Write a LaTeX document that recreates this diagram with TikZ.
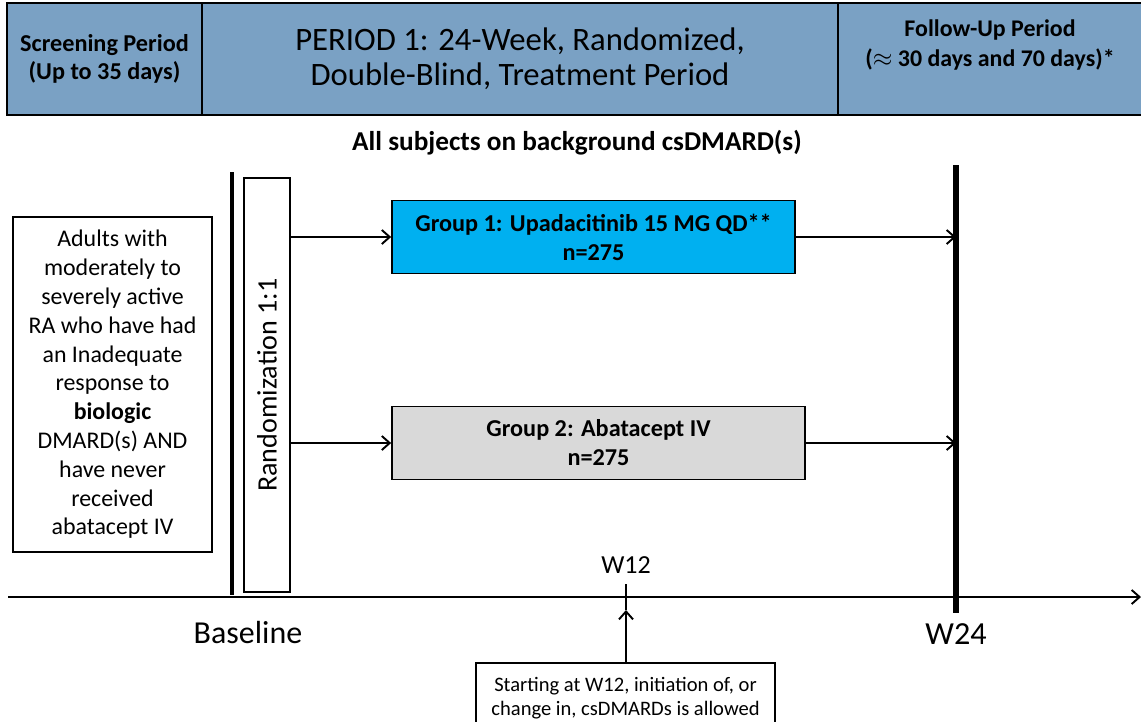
\documentclass[tikz,border=0pt]{standalone}
\usepackage{fontspec}
\setmainfont{Carlito}
\usetikzlibrary{arrows,arrows.meta,positioning}
\definecolor{HeadBlue}{RGB}{122,161,196}
\definecolor{GroupBlue}{RGB}{0,176,240}
\definecolor{GroupGray}{RGB}{217,217,217}
\tikzstyle{Head} = [draw, fill=HeadBlue, rectangle, line width=0.8pt, minimum height=2.24cm, align=center, inner sep=0pt]
\tikzstyle{Group} = [draw, rectangle, line width=1pt, minimum height=1.46cm, align=center, font=\fontsize{13.8}{16.5}\selectfont\bfseries]
\tikzstyle{Text} = [draw, rectangle, line width=0.9pt, align=center]
\tikzstyle{Bar} = [line width=3.2pt]
\tikzstyle{Flow} = [-{Straight Barb[length=4.5pt,width=8pt]}, line width=1.1pt]

\begin{document}
\begin{tikzpicture}[x=0.02cm, y=-0.02cm]
    \useasboundingbox (0,0) rectangle (1141,721);
    % period headers
    \node[Head, minimum width=3.9cm, font=\fontsize{13.8}{16}\selectfont\bfseries] (screen) at (104.5,59)
        {Screening Period\\(Up to 35 days)};
    \node[Head, minimum width=12.72cm, font=\fontsize{18.6}{20}\selectfont] (period) at (520,59)
        {PERIOD 1: 24-Week, Randomized,\\Double-Blind, Treatment Period};
    \node[Head, minimum width=6.24cm] (follow) at (994,59) {};
    \node[align=center, font=\fontsize{13.6}{17}\selectfont\bfseries] (followtext) at (990,45)
        {Follow-Up Period\\($\approx$ 30 days and 70 days)*};
    \node[font=\fontsize{15.5}{17}\selectfont\bfseries] (allsub) at (577,143)
        {All subjects on background csDMARD(s)};

    % population and randomization
    \node[Text, minimum width=3.98cm, minimum height=6.7cm,
          font=\fontsize{13.6}{16.4}\selectfont] (adults) at (112.5,384.5)
        {Adults with\\moderately to\\severely active\\RA who have had\\an Inadequate\\response to\\\textbf{biologic}\\DMARD(s) AND\\have never\\received\\abatacept IV};
    \coordinate (basetop) at (232,172);
    \coordinate (basebot) at (232,595);
    \draw[Bar, line width=2.6pt] (basetop) -- (basebot);
    \node[Text, rotate=90, minimum width=8.28cm, minimum height=0.92cm, inner sep=0pt,
          font=\fontsize{16}{18}\selectfont] (rand) at (267,385) {Randomization 1:1};

    % treatment groups
    \node[Group, fill=GroupBlue, minimum width=8.06cm] (group1) at (593.5,237)
        {Group 1: Upadacitinib 15 MG QD**\\n=275};
    \node[Group, fill=GroupGray, minimum width=8.26cm] (group2) at (598.5,443)
        {Group 2: Abatacept IV\\n=275};
    \coordinate (w24top) at (956,165);
    \coordinate (w24bot) at (956,613);
    \draw[Bar] (w24top) -- (w24bot);
    \draw[Flow] (rand.south |- group1) -- (group1.west);
    \draw[Flow] (rand.south |- group2) -- (group2.west);
    \draw[Flow] (group1.east) -- (group1.east -| w24top);
    \draw[Flow] (group2.east) -- (group2.east -| w24top);

    % time axis
    \coordinate (axisstart) at (8,597);
    \coordinate (axisend)   at (1141,597);
    \draw[Flow] (axisstart) -- (axisend);
    \coordinate (w12top) at (626,584);
    \coordinate (w12bot) at (626,610);
    \draw[line width=1.4pt] (w12top) -- (w12bot);
    \node[font=\fontsize{14.8}{17}\selectfont] (w12) at (626,565) {W12};
    \node[font=\fontsize{18.2}{20}\selectfont] (baseline) at (248,632) {Baseline};
    \node[font=\fontsize{18.3}{20}\selectfont] (w24) at (956,634) {W24};
    \node[Text, minimum width=5.98cm, minimum height=1.4cm,
          font=\fontsize{11.7}{13.8}\selectfont] (note) at (625.5,698)
        {Starting at W12, initiation of, or\\change in, csDMARDs is allowed};
    \draw[Flow] (note.north -| w12bot) -- (w12bot);
  \end{tikzpicture}
\end{document}
